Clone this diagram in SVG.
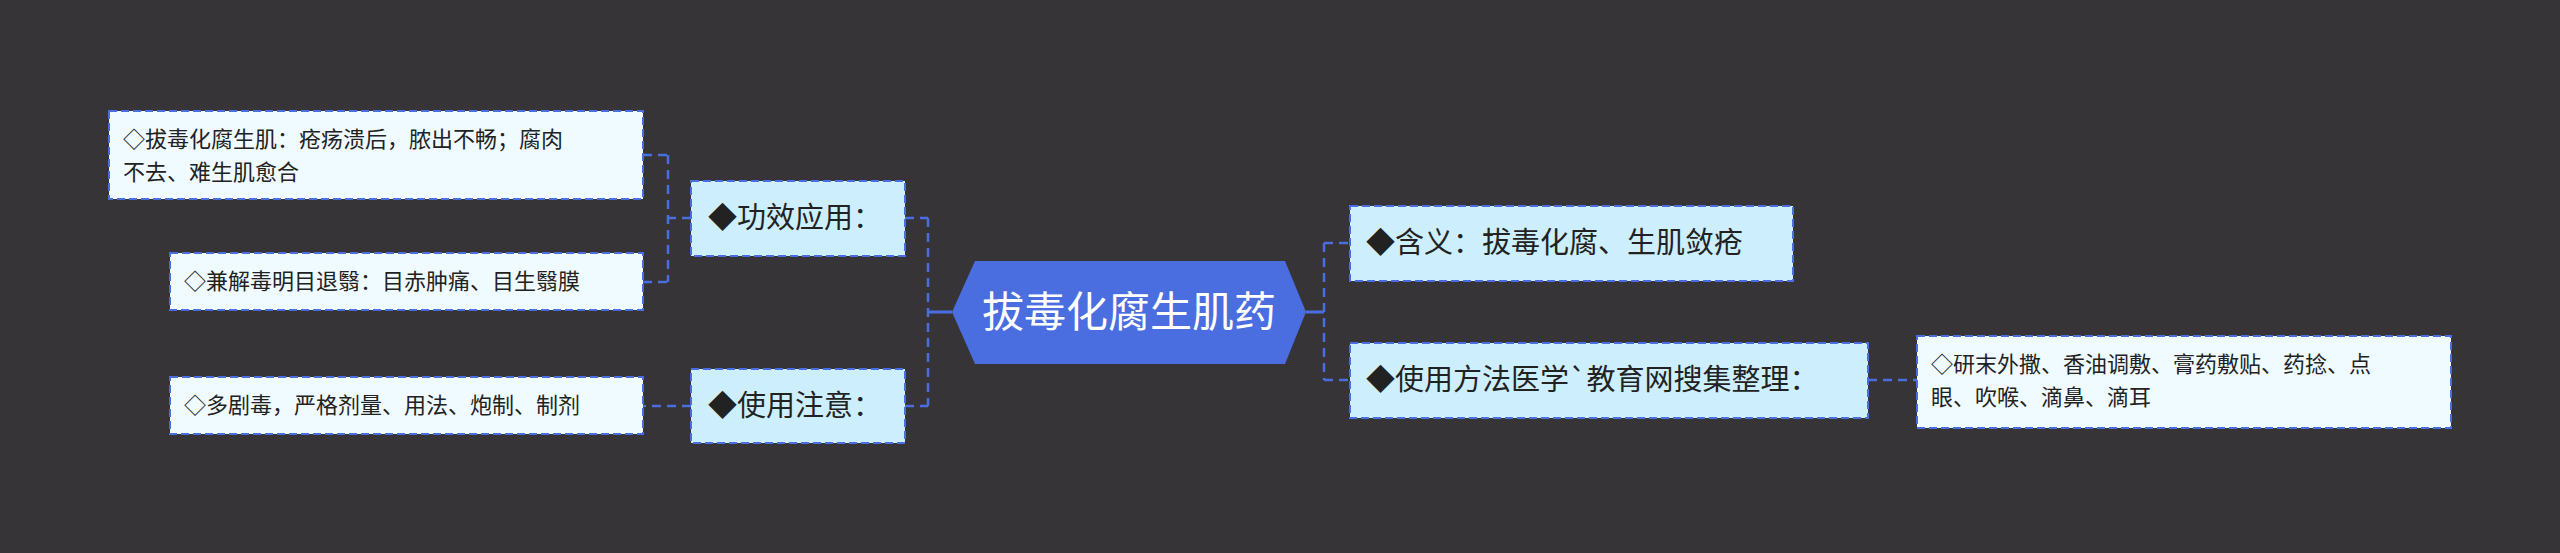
<svg xmlns="http://www.w3.org/2000/svg" width="2560" height="553" viewBox="0 0 2560 553">
<style>
text{font-family:"Noto Sans CJK SC","Liberation Sans",sans-serif;fill:#222}
.mid{fill:#cdeffd;stroke:#4a6ee0;stroke-width:2;stroke-dasharray:8 4}
.leaf{fill:#f0fbff;stroke:#4a6ee0;stroke-width:2;stroke-dasharray:8 4}
.c{fill:none;stroke:#4a6ee0;stroke-width:2.5;stroke-dasharray:9 6}
.m{font-size:29px}.l{font-size:22px}
</style>
<rect width="2560" height="553" fill="#363436"/>
<g id="connectors">
<path d="M952 312H928" stroke="#4a6ee0" stroke-width="3" fill="none"/>
<path class="c" d="M928 218V406M905 218H928M905 406H928"/>
<path class="c" d="M691 218H668M668 155V282M643 155H668M643 282H668"/>
<path class="c" d="M691 406H643"/>
<path d="M1306 312H1324" stroke="#4a6ee0" stroke-width="3" fill="none"/>
<path class="c" d="M1324 243V380M1324 243H1350M1324 380H1350"/>
<path class="c" d="M1868 380H1917"/>
</g>
<g id="center"><polygon points="975,261 1285,261 1306,312 1285,364 975,364 952,312" fill="#4a6ee0"/>
<text x="1129" y="327" font-size="42" text-anchor="middle" style="fill:#fff">拔毒化腐生肌药</text></g>
<g id="n1"><rect class="mid" x="691" y="181" width="214" height="75"/><text class="m" x="708" y="228">◆功效应用：</text></g>
<g id="n2"><rect class="mid" x="691" y="369" width="214" height="74"/><text class="m" x="708" y="416">◆使用注意：</text></g>
<g id="l1"><rect class="leaf" x="109" y="111" width="534" height="88"/><text class="l" x="123" y="147">◇拔毒化腐生肌：疮疡溃后，脓出不畅；腐肉</text><text class="l" x="123" y="180">不去、难生肌愈合</text></g>
<g id="l2"><rect class="leaf" x="170" y="253" width="473" height="57"/><text class="l" x="184" y="289">◇兼解毒明目退翳：目赤肿痛、目生翳膜</text></g>
<g id="l3"><rect class="leaf" x="170" y="377" width="473" height="57"/><text class="l" x="184" y="413">◇多剧毒，严格剂量、用法、炮制、制剂</text></g>
<g id="n3"><rect class="mid" x="1350" y="206" width="443" height="75"/><text class="m" x="1366" y="253">◆含义：拔毒化腐、生肌敛疮</text></g>
<g id="n4"><rect class="mid" x="1350" y="343" width="518" height="75"/><text class="m" x="1366" y="390">◆使用方法医学`教育网搜集整理：</text></g>
<g id="l4"><rect class="leaf" x="1917" y="336" width="534" height="92"/><text class="l" x="1931" y="372">◇研末外撒、香油调敷、膏药敷贴、药捻、点</text><text class="l" x="1931" y="405">眼、吹喉、滴鼻、滴耳</text></g>
</svg>
